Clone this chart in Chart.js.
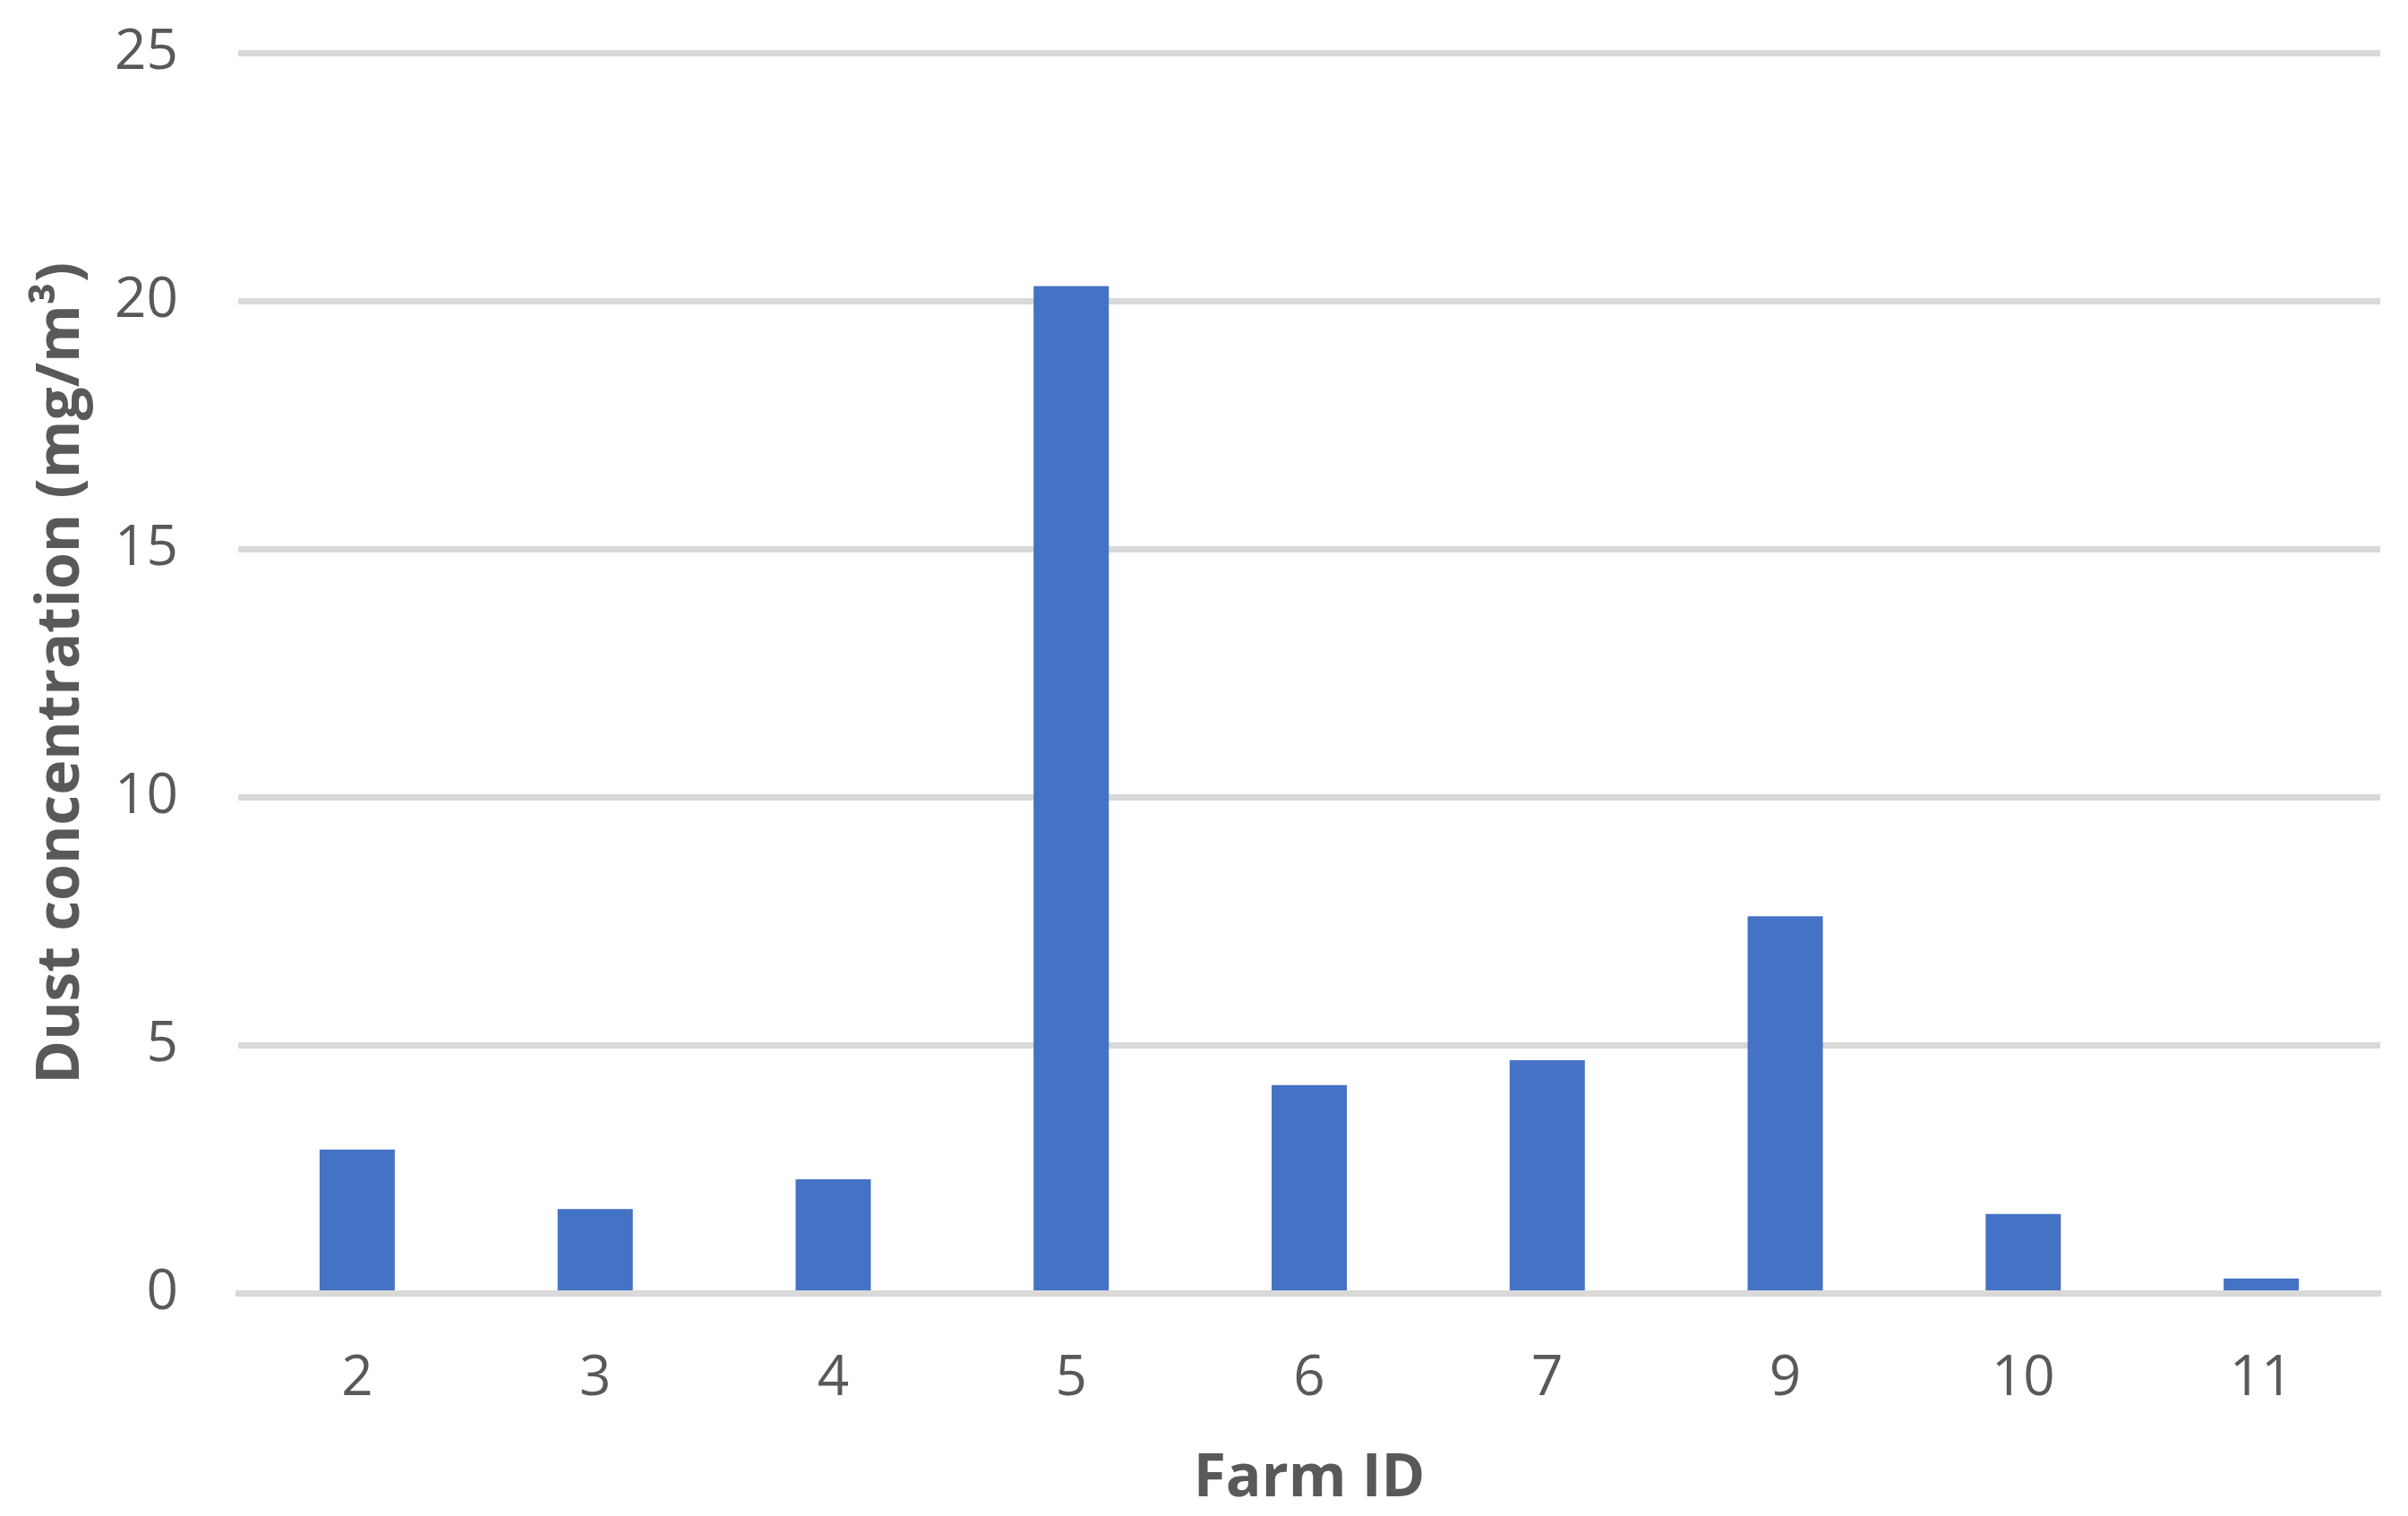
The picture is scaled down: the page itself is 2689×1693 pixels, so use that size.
<!DOCTYPE html>
<html>
<head>
<meta charset="utf-8">
<script src="https://cdn.jsdelivr.net/npm/chart.js@4.4.1/dist/chart.umd.min.js"></script>
<style>
html,body{margin:0;padding:0;background:#fff;}
canvas{display:block;}
</style>
</head>
<body>
<canvas id="c" width="2689" height="1693"></canvas>
<script>
const farmIds = ["2", "3", "4", "5", "6", "7", "9", "10", "11"];
const dustValues = [2.9, 1.7, 2.3, 20.3, 4.2, 4.7, 7.6, 1.6, 0.3];
const yTicks = [0, 5, 10, 15, 20, 25];
const xTitle = "Farm ID";
const yTitle = "Dust concentration (mg/m³)";

const textColor = "#595959";
const gridColor = "#d9d9d9";
const barColor = "#4472C4";

new Chart(document.getElementById("c"), {
  type: "bar",
  data: {
    labels: farmIds,
    datasets: [{
      data: dustValues,
      backgroundColor: barColor,
      borderWidth: 0,
      categoryPercentage: 1.0,
      barPercentage: 0.316
    }]
  },
  options: {
    responsive: false,
    animation: false,
    devicePixelRatio: 1,
    layout: { padding: { top: 59, right: 31, left: 0, bottom: 0 } },
    plugins: { legend: { display: false }, tooltip: { enabled: false } },
    scales: {
      x: {
        grid: { display: false, drawTicks: false },
        border: { display: true, color: gridColor, width: 7, z: 1 },
        ticks: {
          color: textColor,
          font: { family: "Open Sans", size: 62 },
          padding: 59,
          maxRotation: 0
        },
        title: {
          display: true,
          text: xTitle,
          color: textColor,
          font: { family: "Open Sans", size: 66, weight: "bold" },
          padding: { top: 0, bottom: 1 }
        },
        afterFit(scale) {
          scale.height = 248.5;
          scale.paddingLeft = 0;
          scale.paddingRight = 0;
        }
      },
      y: {
        min: 0,
        max: 25,
        afterBuildTicks(scale) { scale.ticks = yTicks.map(v => ({ value: v })); },
        grid: { color: gridColor, lineWidth: 7, drawTicks: false },
        border: { display: false },
        ticks: {
          color: textColor,
          font: { family: "Open Sans", size: 62 },
          padding: 67
        },
        title: {
          display: true,
          text: yTitle,
          color: textColor,
          font: { family: "Open Sans", size: 66, weight: "bold" },
          padding: { top: 30, bottom: 0 }
        },
        afterFit(scale) {
          scale.width = 266;
          scale.paddingTop = 0;
          scale.paddingBottom = 0;
        }
      }
    }
  }
});
</script>
</body>
</html>
